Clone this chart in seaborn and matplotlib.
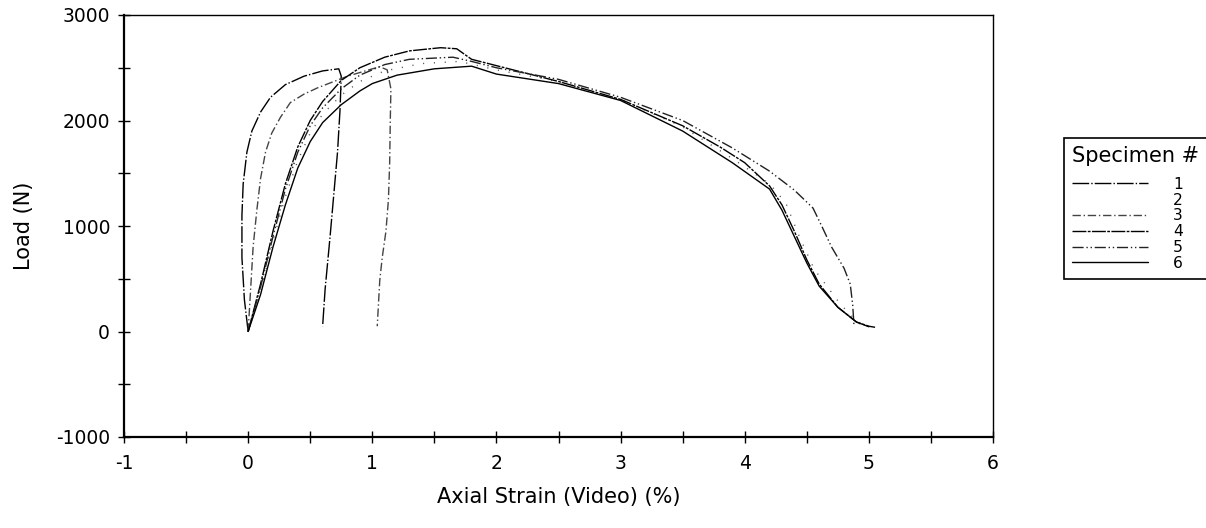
import numpy as np
import pandas as pd
import matplotlib
matplotlib.use("Agg")
import matplotlib.pyplot as plt
from matplotlib.ticker import MultipleLocator, NullFormatter
import seaborn as sns

# ---- data ----
spec1_x = [0.0, -0.03, -0.05, -0.05, -0.04, -0.01, 0.03, 0.1, 0.18, 0.3, 0.45, 0.6, 0.73, 0.75, 0.74, 0.72, 0.69, 0.66, 0.62, 0.6]
spec1_y = [0, 300, 700, 1100, 1400, 1700, 1900, 2080, 2220, 2340, 2420, 2470, 2490, 2420, 2100, 1700, 1300, 900, 400, 50]

spec2_x = [0.0, 0.1, 0.2, 0.3, 0.4, 0.5, 0.6, 0.75, 0.9, 1.1, 1.4, 1.7, 2.0, 2.5, 3.0, 3.5, 3.9, 4.2, 4.33, 4.44, 4.56, 4.77, 4.9, 4.95]
spec2_y = [0, 380, 860, 1280, 1620, 1880, 2060, 2240, 2370, 2470, 2540, 2560, 2480, 2370, 2200, 1940, 1640, 1400, 1220, 900, 590, 260, 100, 50]

spec3_x = [0.0, 0.02, 0.04, 0.07, 0.1, 0.14, 0.19, 0.26, 0.34, 0.45, 0.56, 0.8, 1.06, 1.12, 1.15, 1.145, 1.14, 1.13, 1.11, 1.08, 1.06, 1.04]
spec3_y = [0, 400, 800, 1150, 1450, 1700, 1880, 2030, 2170, 2250, 2310, 2420, 2510, 2480, 2300, 2000, 1600, 1250, 950, 700, 480, 50]

spec4_x = [0.0, 0.1, 0.2, 0.3, 0.4, 0.5, 0.6, 0.75, 0.9, 1.1, 1.3, 1.55, 1.68, 1.8, 2.0, 2.5, 3.0, 3.5, 3.8, 4.0, 4.2, 4.3, 4.4, 4.5, 4.6, 4.75, 4.9, 5.0, 5.05]
spec4_y = [0, 450, 950, 1400, 1750, 2000, 2180, 2380, 2500, 2600, 2660, 2690, 2680, 2580, 2520, 2370, 2200, 1950, 1750, 1600, 1380, 1200, 950, 680, 450, 230, 90, 50, 40]

spec5_x = [0.0, 0.1, 0.2, 0.3, 0.4, 0.5, 0.6, 0.75, 0.9, 1.1, 1.3, 1.65, 1.8, 2.0, 2.5, 3.0, 3.5, 3.9, 4.2, 4.4, 4.55, 4.62, 4.7, 4.8, 4.85, 4.87, 4.88]
spec5_y = [0, 420, 900, 1350, 1700, 1950, 2120, 2300, 2430, 2530, 2580, 2600, 2560, 2500, 2390, 2220, 2000, 1740, 1520, 1340, 1170, 1000, 800, 600, 450, 250, 60]

spec6_x = [0.0, 0.1, 0.2, 0.3, 0.4, 0.5, 0.6, 0.75, 0.9, 1.0, 1.2, 1.5, 1.8, 2.0, 2.5, 3.0, 3.5, 3.9, 4.2, 4.3, 4.4, 4.5, 4.6, 4.75, 4.9, 5.0]
spec6_y = [0, 350, 800, 1200, 1550, 1800, 1980, 2150, 2280, 2350, 2430, 2490, 2515, 2440, 2350, 2190, 1900, 1600, 1350, 1150, 900, 650, 430, 230, 90, 45]

specimens = ["1", "2", "3", "4", "5", "6"]
xs = [spec1_x, spec2_x, spec3_x, spec4_x, spec5_x, spec6_x]
ys = [spec1_y, spec2_y, spec3_y, spec4_y, spec5_y, spec6_y]

frames = []
for s, x, y in zip(specimens, xs, ys):
    frames.append(pd.DataFrame({"strain": x, "load": y, "Specimen #": s}))
df = pd.concat(frames, ignore_index=True)

# ---- styling ----
sns.set_theme(style="white")
plt.rcParams["font.family"] = ["DejaVu Sans"]
plt.rcParams["axes.unicode_minus"] = False
plt.rcParams["text.color"] = "black"
plt.rcParams["axes.labelcolor"] = "black"

fig = plt.figure(figsize=(12.06, 5.28), dpi=100)
ax = fig.add_axes([124 / 1206, 1 - 437 / 528, (993 - 124) / 1206, (437 - 15) / 528])

palette = {"1": "black", "2": "#555555", "3": "#444444", "4": "black", "5": "#222222", "6": "black"}
dashes = {"1": (12, 1.5, 1, 1.5), "2": (0.8, 7), "3": (6, 2, 1, 2),
          "4": (10, 1, 2, 1), "5": (8, 2, 1, 2, 1, 2), "6": ""}

sns.lineplot(data=df, x="strain", y="load", hue="Specimen #", style="Specimen #",
             palette=palette, dashes=dashes, sort=False, estimator=None,
             linewidth=1.0, ax=ax, legend="full")

ax.set_xlim(-1, 6)
ax.set_ylim(-1000, 3000)
ax.xaxis.set_major_locator(MultipleLocator(1))
ax.xaxis.set_minor_locator(MultipleLocator(0.5))
ax.yaxis.set_major_locator(MultipleLocator(1000))
ax.yaxis.set_minor_locator(MultipleLocator(500))
ax.xaxis.set_minor_formatter(NullFormatter())
ax.yaxis.set_minor_formatter(NullFormatter())
ax.tick_params(axis="both", which="both", direction="inout", length=8, width=1,
               color="black", labelsize=13.5, labelcolor="black",
               bottom=True, left=True, top=False, right=False)
ax.tick_params(axis="x", pad=8)
ax.tick_params(axis="y", pad=6)

for side in ["left", "bottom"]:
    ax.spines[side].set_linewidth(1.6)
    ax.spines[side].set_color("black")
for side in ["top", "right"]:
    ax.spines[side].set_linewidth(1.0)
    ax.spines[side].set_color("black")

ax.set_xlabel("Axial Strain (Video) (%)", fontsize=15, color="black", labelpad=10)
ax.set_ylabel("Load (N)", fontsize=15, color="black", labelpad=16)

sns.move_legend(ax, loc="upper left",
                bbox_to_anchor=((1064 - 124) / 869, (437 - 138) / 422),
                title="Specimen #", frameon=True, fancybox=False, framealpha=1,
                edgecolor="black", fontsize=11.2, title_fontsize=15,
                handlelength=4.9, handletextpad=1.6, labelspacing=0.05,
                borderpad=0.5, borderaxespad=0, alignment="left")
leg = ax.get_legend()
leg.get_frame().set_linewidth(1.2)
leg.get_title().set_color("black")
leg._legend_box.sep = 8
for h, t in zip(leg.get_lines(), leg.get_texts()):
    t.set_color("black")
    if t.get_text() == "2":
        h.set_visible(False)

fig.savefig("out.png", dpi=100, facecolor="white")
